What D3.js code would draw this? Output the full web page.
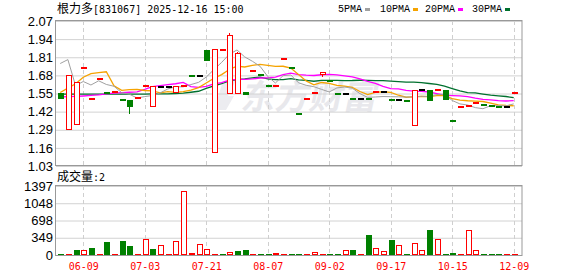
<!DOCTYPE html>
<html>
<head>
<meta charset="utf-8">
<script src="https://cdn.jsdelivr.net/npm/d3@7"></script>
<style>
body { margin: 0; background: #fff; }
svg { display: block; }
</style>
</head>
<body>
<svg width="578" height="276"></svg>
<script>
var openP = [1.553,1.290,1.328,1.731,1.509,1.656,1.551,1.559,1.504,1.503,
    1.519,1.601,1.458,1.597,1.597,1.559,1.601,1.678,1.677,1.865,
    1.128,1.859,1.551,1.551,1.561,1.708,1.681,1.602,1.600,1.799,
    1.734,1.401,1.509,1.550,1.688,1.641,1.545,1.544,1.509,1.508,
    1.508,1.558,1.559,1.504,1.503,1.498,1.319,1.573,1.575,1.572,
    1.575,1.351,1.450,1.457,1.479,1.466,1.461,1.452,1.451,1.550];
var highP = [1.553,1.680,1.626,1.732,1.510,1.657,1.551,1.560,1.504,1.503,
    1.520,1.602,1.597,1.597,1.597,1.597,1.602,1.678,1.677,1.865,
    1.866,1.860,1.986,1.850,1.561,1.709,1.681,1.602,1.601,1.800,
    1.734,1.401,1.510,1.551,1.704,1.641,1.545,1.544,1.509,1.508,
    1.508,1.559,1.559,1.504,1.503,1.498,1.573,1.573,1.575,1.573,
    1.575,1.351,1.451,1.458,1.480,1.466,1.461,1.452,1.451,1.551];
var lowP = [1.507,1.290,1.328,1.731,1.509,1.656,1.550,1.559,1.503,1.405,
    1.519,1.601,1.458,1.597,1.597,1.559,1.601,1.677,1.677,1.785,
    1.128,1.859,1.551,1.551,1.536,1.708,1.680,1.601,1.600,1.799,
    1.733,1.400,1.509,1.550,1.666,1.640,1.544,1.544,1.508,1.508,
    1.507,1.558,1.559,1.503,1.503,1.497,1.319,1.573,1.498,1.572,
    1.505,1.350,1.450,1.457,1.479,1.465,1.460,1.451,1.451,1.550];
var closeP = [1.507,1.680,1.626,1.732,1.510,1.657,1.550,1.560,1.503,1.455,
    1.520,1.602,1.597,1.597,1.597,1.597,1.602,1.677,1.677,1.785,
    1.866,1.860,1.967,1.834,1.536,1.709,1.680,1.601,1.601,1.800,
    1.733,1.400,1.510,1.551,1.704,1.640,1.544,1.544,1.508,1.508,
    1.507,1.559,1.559,1.503,1.503,1.497,1.573,1.573,1.498,1.573,
    1.505,1.350,1.451,1.458,1.480,1.465,1.460,1.451,1.451,1.551];
var volume = [25,8,101,101,142,12,263,10,283,182,
    12,318,121,196,15,283,1290,40,216,115,
    12,10,54,81,101,12,10,12,34,12,
    10,12,10,54,12,10,12,94,101,12,
    405,135,74,304,196,12,243,101,506,318,
    12,40,10,506,101,12,10,12,10,2];

// moving averages before enough candles are on screen
var ma5Lead = [1.765,1.793,1.607,1.636];
var ma10Lead = [1.557,1.589,1.620,1.667,1.692,1.699,1.706,1.605,1.573];
var ma20Lead = [1.525,1.527,1.529,1.532,1.536,1.540,1.548,1.553,1.556,1.559,
    1.562,1.580,1.600,1.607,1.613,1.620,1.630,1.600,1.594];
var ma30Lead = [1.546,1.546,1.546,1.546,1.546,1.546,1.546,1.546,1.546,1.546,
    1.546,1.546,1.547,1.548,1.548,1.550,1.553,1.559,1.566,1.587,
    1.604,1.620,1.640,1.650,1.655,1.662,1.668,1.655,1.650];

var tickIdx = [3, 11, 19, 27, 35, 43, 51, 59];
var tickLabels = ["06-09", "07-03", "07-21", "08-07", "09-02", "09-17", "10-15", "12-09"];
var priceTicks = [2.07, 1.94, 1.81, 1.68, 1.55, 1.42, 1.29, 1.16, 1.03];
var volTicks = [0, 349, 698, 1048, 1397];
var maNames = ["5PMA", "10PMA", "20PMA", "30PMA"];
var maColors = ["#a0a0a0", "#f5a300", "#ff00ff", "#00702e"];

var RED = "#ff0000", GREEN = "#008000";
var mono = "'Liberation Mono', monospace";
var sansMono = "'DejaVu Sans Mono', monospace";
var cjk = "'Noto Sans CJK SC', sans-serif";

var x = d3.scaleLinear().domain([0, 59]).range([60.2, 513.7]);
var y = d3.scaleLinear().domain([1.03, 2.07]).range([166, 21]);
var yv = d3.scaleLinear().domain([0, 1397]).range([255, 186]);

function movingAvg(lead, n) {
    return closeP.map(function(c, i) {
        if (i < lead.length) return lead[i];
        return d3.mean(closeP.slice(i - n + 1, i + 1));
    });
}

function drawFrames() {
    var svg = d3.select("svg");
    svg.append("g")
        .attr("transform", "translate(56,0)")
        .call(d3.axisRight(y).tickValues(priceTicks).tickSize(466).tickFormat(""))
        .call(function(g) { g.select(".domain").remove(); })
        .selectAll("line").attr("stroke", "#d2d2d2");
    svg.append("g")
        .attr("transform", "translate(56,0)")
        .call(d3.axisRight(yv).tickValues(volTicks).tickSize(466).tickFormat(""))
        .call(function(g) { g.select(".domain").remove(); })
        .selectAll("line").attr("stroke", "#d2d2d2");

    tickIdx.forEach(function(t) {
        [[21, 166], [186, 255]].forEach(function(r) {
            svg.append("line")
                .attr("x1", Math.round(x(t)) + 0.5).attr("x2", Math.round(x(t)) + 0.5)
                .attr("y1", r[0]).attr("y2", r[1])
                .attr("stroke", "#cfcfcf")
                .attr("stroke-dasharray", "4,3");
        });
    });

    svg.append("rect").attr("x", 55.5).attr("y", 20.5).attr("width", 466.5).attr("height", 145)
        .attr("fill", "none").attr("stroke", "#999");
    svg.append("rect").attr("x", 55.5).attr("y", 185.5).attr("width", 466.5).attr("height", 70)
        .attr("fill", "none").attr("stroke", "#999");
}

function drawAxes() {
    var svg = d3.select("svg");
    var left = svg.append("g")
        .attr("transform", "translate(56,0)")
        .call(d3.axisLeft(y).tickValues(priceTicks).tickSize(0).tickPadding(3)
            .tickFormat(d3.format(".2f")));
    var vleft = svg.append("g")
        .attr("transform", "translate(56,0)")
        .call(d3.axisLeft(yv).tickValues(volTicks).tickSize(0).tickPadding(3)
            .tickFormat(d3.format("d")));
    [left, vleft].forEach(function(g) {
        g.select(".domain").remove();
        g.selectAll("text")
            .attr("fill", "#000")
            .style("font-family", "'Liberation Sans', Arial, sans-serif")
            .style("font-size", "13px");
    });

    var bottom = svg.append("g")
        .attr("transform", "translate(0,255)")
        .call(d3.axisBottom(x).tickValues(tickIdx).tickSize(0).tickPadding(8)
            .tickFormat(function(d, i) { return tickLabels[i]; }));
    bottom.select(".domain").remove();
    bottom.selectAll("text")
        .attr("fill", RED)
        .style("font-family", sansMono)
        .style("font-size", "10px");
}

function drawTitles() {
    var svg = d3.select("svg");
    var t = svg.append("text").attr("x", 57).attr("y", 13).attr("fill", "#000");
    t.append("tspan").style("font-family", cjk).style("font-size", "12px").text("根力多");
    t.append("tspan").style("font-family", sansMono).style("font-size", "10px").text("[831067] 2025-12-16 15:00");

    var v = svg.append("text").attr("x", 57).attr("y", 181).attr("fill", "#000");
    v.append("tspan").style("font-family", cjk).style("font-size", "12px").text("成交量");
    v.append("tspan").style("font-family", sansMono).style("font-size", "10px").text(":" + volume[volume.length - 1]);

    var lx = [338, 380, 425, 472];
    maNames.forEach(function(n, i) {
        svg.append("text")
            .attr("x", lx[i]).attr("y", 12)
            .style("font-family", mono).style("font-size", "10px")
            .attr("fill", "#000")
            .text(n);
        svg.append("rect")
            .attr("x", lx[i] + n.length * 6 + 3).attr("y", 8)
            .attr("width", 5).attr("height", 3)
            .attr("fill", maColors[i]);
    });
}

function drawWatermark() {
    var svg = d3.select("svg");
    // rough stand-in for the logo swoosh
    svg.append("path")
        .attr("d", "M214,110 L222,84 L236,80 L228,96 L234,96 L226,110 Z")
        .attr("fill", "#ececf0");
    svg.append("text")
        .attr("transform", "translate(240,109) skewX(-12)")
        .style("font-family", cjk)
        .style("font-size", "34px")
        .style("font-weight", "bold")
        .attr("fill", "#e8e8ec")
        .text("东方财富");
}

function drawCandles() {
    var g = d3.select("svg").append("g").attr("shape-rendering", "crispEdges");
    var w = 5;
    closeP.forEach(function(c, i) {
        var o = openP[i];
        var col = c > o ? RED : (c < o ? GREEN : "#000");
        var cx = Math.round(x(i));
        var top = y(Math.max(o, c)), bot = y(Math.min(o, c));
        if (y(highP[i]) < top - 0.6) {
            g.append("line").attr("x1", cx + 0.5).attr("x2", cx + 0.5)
                .attr("y1", y(highP[i])).attr("y2", top).attr("stroke", col);
        }
        if (y(lowP[i]) > bot + 0.6) {
            g.append("line").attr("x1", cx + 0.5).attr("x2", cx + 0.5)
                .attr("y1", bot).attr("y2", y(lowP[i])).attr("stroke", col);
        }
        if (bot - top < 2) {
            g.append("rect").attr("x", cx - 2).attr("y", Math.round(top) - 1)
                .attr("width", w + 1).attr("height", 2).attr("fill", col);
        } else if (col === RED) {
            g.append("rect").attr("x", cx - 2 + 0.5).attr("y", top)
                .attr("width", w).attr("height", bot - top)
                .attr("fill", "#fff").attr("stroke", RED);
        } else {
            g.append("rect").attr("x", cx - 2).attr("y", top)
                .attr("width", w + 1).attr("height", bot - top).attr("fill", col);
        }
    });
}

function drawMAs() {
    var leads = [ma5Lead, ma10Lead, ma20Lead, ma30Lead];
    var spans = [5, 10, 20, 30];
    var line = d3.line()
        .x(function(d, i) { return x(i); })
        .y(function(d) { return y(d); });
    // slow lines first so the 5-day one ends up on top
    [3, 2, 1, 0].forEach(function(k) {
        d3.select("svg").append("path")
            .datum(movingAvg(leads[k], spans[k]))
            .attr("d", line)
            .attr("fill", "none")
            .attr("stroke", maColors[k])
            .attr("stroke-width", k === 0 ? 1 : 1.3);
    });
}

function drawVolume() {
    var g = d3.select("svg").append("g").attr("shape-rendering", "crispEdges");
    volume.forEach(function(v, i) {
        var up = i === 0 ? closeP[0] >= openP[0] : closeP[i] >= closeP[i - 1];
        var cx = Math.round(x(i));
        var h = Math.max(1, yv(0) - yv(v));
        if (up && h > 2) {
            g.append("rect").attr("x", cx - 2 + 0.5).attr("y", 255 - h + 0.5)
                .attr("width", 5).attr("height", h - 1)
                .attr("fill", "#fff").attr("stroke", RED);
        } else {
            g.append("rect").attr("x", cx - 2).attr("y", 255 - h)
                .attr("width", 6).attr("height", h)
                .attr("fill", up ? RED : GREEN);
        }
    });
}

drawWatermark();
drawFrames();
drawMAs();
drawCandles();
drawVolume();
drawAxes();
drawTitles();
</script>
</body>
</html>
